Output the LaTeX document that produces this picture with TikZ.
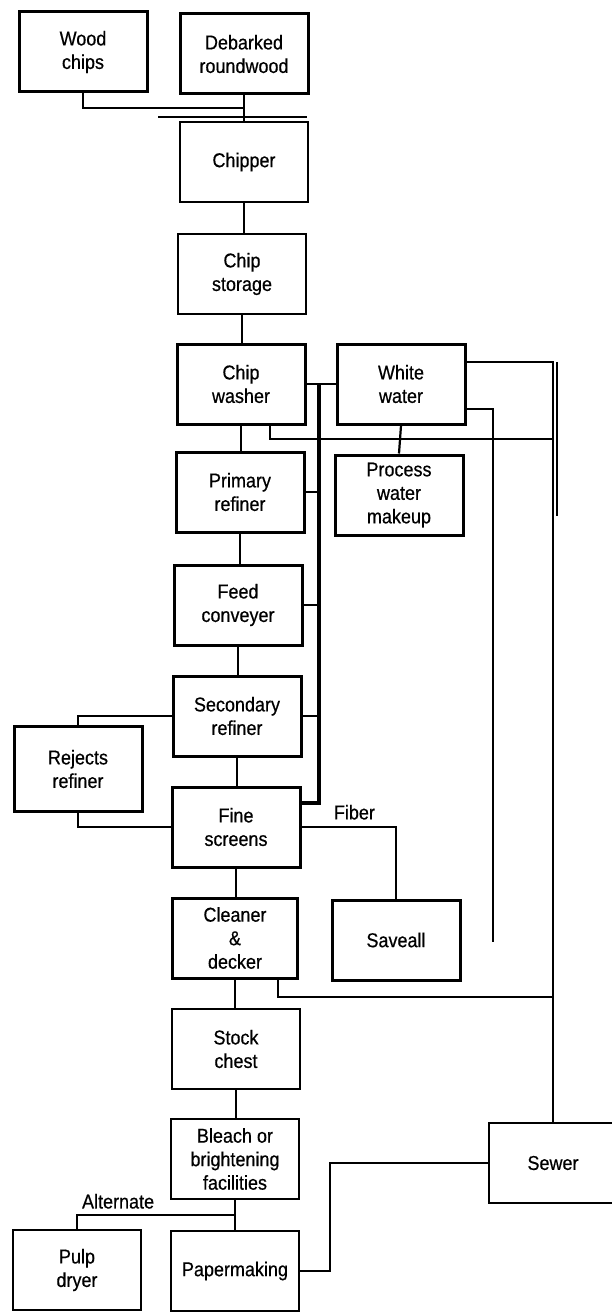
\documentclass[tikz,border=0pt]{standalone}
\usepackage{fontspec}
\setmainfont{Liberation Sans}[FakeStretch=0.9, FakeBold=0.5]

\begin{document}
\begin{tikzpicture}[x=1pt, y=-1pt,
  font=\fontsize{20pt}{23.5pt}\selectfont,
  unit/.style={draw, line width=3pt, minimum width=128pt, minimum height=80pt,
    inner sep=0pt, align=center},
  plainunit/.style={unit, line width=2.2pt},
  flow/.style={line width=2.2pt},
  drain/.style={line width=1.7pt},
  bus/.style={line width=3.6pt}]
\useasboundingbox (0,0) rectangle (611,1313);

\node[unit] (wood) at (83,52) {Wood\\chips};
\node[unit] (debark) at (244,54) {Debarked\\roundwood};
\node[plainunit] (chipper) at (244,162) {Chipper};
\node[plainunit] (storage) at (242,274) {Chip\\storage};
\node[unit] (washer) at (241,384) {Chip\\washer};
\node[unit] (white) at (401,384) {White\\water};
\node[unit] (primary) at (240,492) {Primary\\refiner};
\node[unit] (process) at (399,495) {Process\\water\\makeup};
\node[unit] (feed) at (238,605) {Feed\\conveyer};
\node[unit] (secondary) at (237,716) {Secondary\\refiner};
\node[unit, minimum height=85pt] (rejects) at (78,769) {Rejects\\refiner};
\node[unit] (fine) at (236,827) {Fine\\screens};
\node[unit, minimum width=125pt] (cleaner) at (235,938) {Cleaner\\\&\\decker};
\node[unit] (saveall) at (396,940) {Saveall};
\node[plainunit] (stock) at (236,1049) {Stock\\chest};
\node[plainunit] (bleach) at (235,1159) {Bleach or\\brightening\\facilities};
\node[plainunit] (pulp) at (77,1270) {Pulp\\dryer};
\node[plainunit] (paper) at (235,1271) {Papermaking};
\node[plainunit] (sewer) at (553,1163) {Sewer};

\coordinate (chipfeed) at (244,108);
\coordinate (bus) at (319,384);
\coordinate (spill) at (553,439);
\coordinate (deck) at (553,997);
\coordinate (trap) at (493,942);

\draw[flow] (wood.south) |- (chipfeed);
\draw[flow] (debark.south) -- (chipper.north);
\draw[drain] ([xshift=-86pt,yshift=4pt]chipper.north) -- ++(149,0);
\draw[flow] (chipper.south) -- (chipper.south |- storage.north);
\draw[flow] (storage.south) -- (storage.south |- washer.north);
\draw[flow] (washer.south) -- (washer.south |- primary.north);
\draw[flow] (primary.south) -- (primary.south |- feed.north);
\draw[flow] (feed.south) -- (feed.south |- secondary.north);
\draw[flow] (secondary.south) -- (secondary.south |- fine.north);
\draw[flow] (fine.south) -- (fine.south |- cleaner.north);
\draw[flow] (cleaner.south) -- (cleaner.south |- stock.north);
\draw[flow] (stock.south) -- (stock.south |- bleach.north);

\draw[flow] (washer.east) -- (white.west);
\draw[bus] (bus) |- ([yshift=24pt]fine.east);
\draw[flow] (primary.east) -- (primary.east -| bus);
\draw[flow] (feed.east) -- (feed.east -| bus);
\draw[flow] (secondary.east) -- (secondary.east -| bus);

\draw[drain] ([yshift=22pt]white.east) -| (sewer.north);
\draw[drain] ([yshift=22pt]white.east -| sewer.north) ++(4,0) -- ++(0,154);
\draw[flow] ([xshift=29pt]washer.south) |- (spill);
\draw[flow] (white.south) -- (process.north);
\draw[flow] ([yshift=-25pt]white.east) -| (trap);
\draw[flow] ([xshift=43pt]cleaner.south) |- (deck);

\draw[flow] (secondary.west) -| (rejects.north);
\draw[flow] (rejects.south) |- (fine.west);
\draw[flow] (fine.east) -| node[pos=0.28, above=3pt] {Fiber} (saveall.north);

\draw[flow] (bleach.south) -- (paper.north);
\draw[flow] (pulp.north) |- node[pos=0.63, above=2pt] {Alternate} ([yshift=-15pt]bleach.south);
\draw[flow] (paper.east) -- ++(30,0) |- (sewer.west);
\end{tikzpicture}
\end{document}
